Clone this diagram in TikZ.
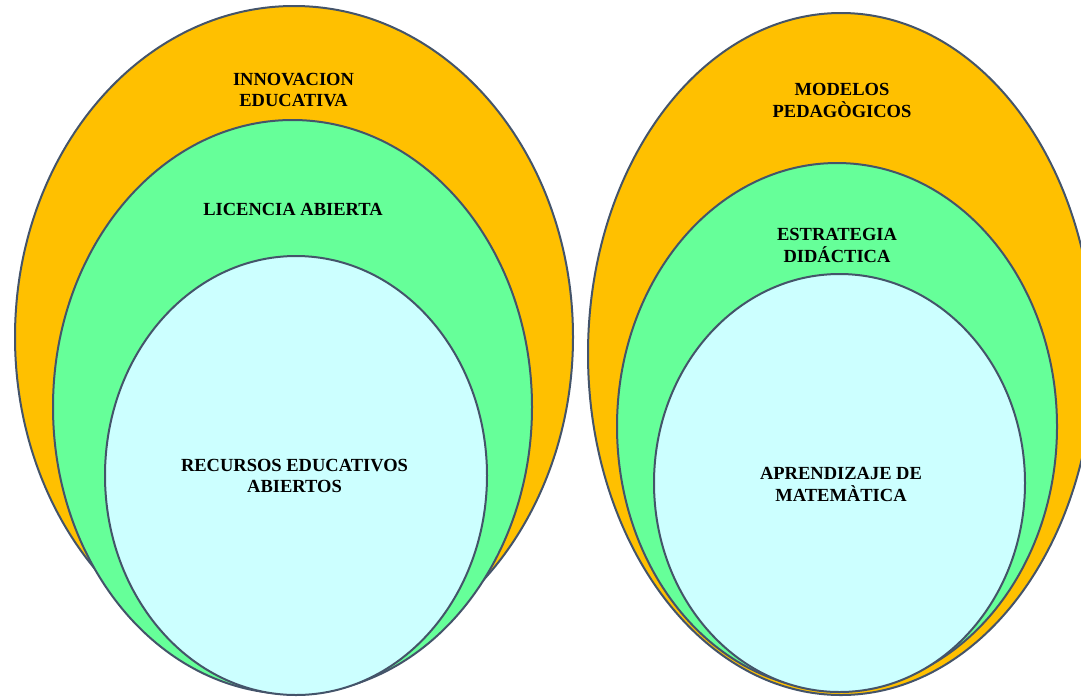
\documentclass[tikz,border=0pt]{standalone}
\usepackage{fontspec}
\setmainfont{Liberation Serif}
\begin{document}
\begin{tikzpicture}[x=1pt,y=-1pt,
  ring/.style={draw=ringline,line width=2pt},
  outerring/.style={ring,fill=ringorange},
  midring/.style={ring,fill=ringgreen},
  innerring/.style={ring,fill=ringcyan},
  label/.style={inner sep=0pt,anchor=base,font=\bfseries\fontsize{18.5}{21}\selectfont}]
\definecolor{ringline}{HTML}{44546A}
\definecolor{ringorange}{HTML}{FFC000}
\definecolor{ringgreen}{HTML}{66FF99}
\definecolor{ringcyan}{HTML}{CCFFFF}
\useasboundingbox (0,0) rectangle (1081,697);

% left set of nested rings
\path[outerring] (294,337) ellipse [x radius=279,y radius=331];
\path[midring] (292.5,407) ellipse [x radius=239.5,y radius=287];
\path[innerring] (296,475.5) ellipse [x radius=191,y radius=219.5];

% right set of nested rings
\path[outerring] (841,354) ellipse [x radius=253,y radius=341];
\path[midring] (837,426.5) ellipse [x radius=220,y radius=263.5];
\path[innerring] (839.5,483) ellipse [x radius=185.5,y radius=209];

\newcommand{\twolines}[2]{\begin{tabular}[t]{@{}c@{}}#1\\#2\end{tabular}}

\node[label] (innov) at (293.5,85) {\twolines{INNOVACION}{EDUCATIVA}};
\node[label] (lic) at (293,215.7) {LICENCIA ABIERTA};
\node[label] (rea) at (294.5,471.7) {\twolines{RECURSOS EDUCATIVOS}{ABIERTOS}};
\node[label] (mod) at (842,95) {\twolines{MODELOS}{PEDAGÒGICOS}};
\node[label] (estr) at (837,240) {\twolines{ESTRATEGIA}{DIDÁCTICA}};
\node[label] (apr) at (841,479.3) {\twolines{APRENDIZAJE DE}{MATEMÀTICA}};
\end{tikzpicture}
\end{document}
